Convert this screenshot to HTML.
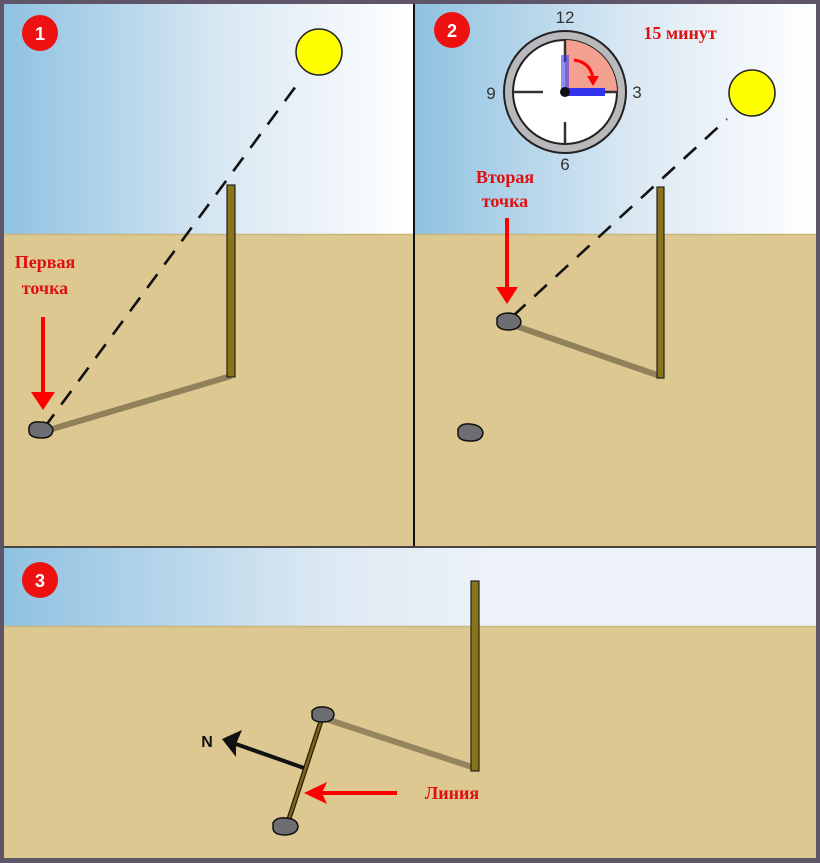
<!DOCTYPE html>
<html><head><meta charset="utf-8"><style>
html,body{margin:0;padding:0;background:#5e5668;}
svg{display:block}
</style></head><body>
<svg width="820" height="863" viewBox="0 0 820 863" xmlns="http://www.w3.org/2000/svg">
<defs>
<linearGradient id="sky1" x1="0" y1="0" x2="1" y2="0">
<stop offset="0" stop-color="#8fc2e1"/><stop offset="0.55" stop-color="#dbe9f3"/><stop offset="1" stop-color="#ffffff"/></linearGradient>
<linearGradient id="sky3" x1="0" y1="0" x2="1" y2="0">
<stop offset="0" stop-color="#8fc2e1"/><stop offset="0.4" stop-color="#dde9f3"/><stop offset="0.6" stop-color="#edf2f9"/><stop offset="1" stop-color="#edf2f9"/></linearGradient>
</defs>
<rect x="0" y="0" width="820" height="863" fill="#5e5668"/>
<!-- panel 1 -->
<rect x="4" y="4" width="409" height="231" fill="url(#sky1)"/>
<rect x="4" y="234" width="409" height="312" fill="#dcc890"/>
<line x1="4" y1="234.5" x2="413" y2="234.5" stroke="#c9b47a" stroke-width="1.5"/>
<!-- panel 2 -->
<rect x="415" y="4" width="401" height="231" fill="url(#sky1)"/>
<rect x="415" y="234" width="401" height="312" fill="#dcc890"/>
<line x1="415" y1="234.5" x2="816" y2="234.5" stroke="#c9b47a" stroke-width="1.5"/>
<rect x="413" y="4" width="2" height="542" fill="#111"/>
<!-- panel 3 -->
<rect x="4" y="546" width="812" height="2" fill="#4a4540"/>
<rect x="4" y="548" width="812" height="78" fill="url(#sky3)"/>
<rect x="4" y="626" width="812" height="232" fill="#dcc890"/>
<line x1="4" y1="626.5" x2="816" y2="626.5" stroke="#c9b47a" stroke-width="1.5"/>

<!-- badges -->
<circle cx="40" cy="33" r="18" fill="#ee1111"/>
<text x="40" y="40" text-anchor="middle" fill="#fff" font-size="18" font-weight="bold" font-family="Liberation Sans, sans-serif">1</text>
<circle cx="452" cy="30" r="18" fill="#ee1111"/>
<text x="452" y="37" text-anchor="middle" fill="#fff" font-size="18" font-weight="bold" font-family="Liberation Sans, sans-serif">2</text>
<circle cx="40" cy="580" r="18" fill="#ee1111"/>
<text x="40" y="587" text-anchor="middle" fill="#fff" font-size="18" font-weight="bold" font-family="Liberation Sans, sans-serif">3</text>

<!-- panel1 content -->
<circle cx="319" cy="52" r="23" fill="#ffff00" stroke="#222" stroke-width="1.5"/>
<line x1="44" y1="428" x2="296" y2="86" stroke="#111" stroke-width="2.6" stroke-dasharray="17,12"/>
<line x1="42" y1="432" x2="231" y2="376" stroke="#837552" stroke-width="6" opacity="0.85"/>
<rect x="227" y="185" width="8" height="192" fill="#8a7418" stroke="#222" stroke-width="1.2"/>
<path d="M29,427 Q31,421 40,422 Q51,422 53,430 Q52,438 42,438 Q30,438 29,432z" fill="#6e6e72" stroke="#111" stroke-width="1.5"/>
<line x1="43" y1="317" x2="43" y2="395" stroke="#f00" stroke-width="4"/>
<path d="M31,392 L55,392 L43,410z" fill="#f00"/>
<text x="45" y="268" text-anchor="middle" fill="#e01010" font-size="18" font-weight="bold" font-family="Liberation Serif, serif">Первая</text>
<text x="45" y="294" text-anchor="middle" fill="#e01010" font-size="18" font-weight="bold" font-family="Liberation Serif, serif">точка</text>

<!-- panel2 content -->
<circle cx="752" cy="93" r="23" fill="#ffff00" stroke="#222" stroke-width="1.5"/>
<line x1="513" y1="316" x2="727" y2="119" stroke="#111" stroke-width="2.6" stroke-dasharray="17,12"/>
<line x1="510" y1="324" x2="660" y2="376" stroke="#837552" stroke-width="6" opacity="0.85"/>
<rect x="657" y="187" width="7" height="191" fill="#8a7418" stroke="#222" stroke-width="1.2"/>
<path d="M497,318 Q500,313 509,313 Q520,314 521,322 Q520,329 510,330 Q498,330 497,324z" fill="#6e6e72" stroke="#111" stroke-width="1.5"/>
<path d="M458,429 Q461,423 470,424 Q482,425 483,433 Q482,441 471,441 Q459,441 458,435z" fill="#6e6e72" stroke="#111" stroke-width="1.5"/>
<line x1="507" y1="218" x2="507" y2="290" stroke="#f00" stroke-width="4"/>
<path d="M496,287 L518,287 L507,304z" fill="#f00"/>
<text x="505" y="183" text-anchor="middle" fill="#e01010" font-size="18" font-weight="bold" font-family="Liberation Serif, serif">Вторая</text>
<text x="505" y="207" text-anchor="middle" fill="#e01010" font-size="18" font-weight="bold" font-family="Liberation Serif, serif">точка</text>
<text x="680" y="39" text-anchor="middle" fill="#e01010" font-size="18" font-weight="bold" font-family="Liberation Serif, serif">15 минут</text>
<!-- clock -->
<circle cx="565" cy="92" r="61" fill="#b9b9bb" stroke="#222" stroke-width="2"/>
<circle cx="565" cy="92" r="52" fill="#fff" stroke="#222" stroke-width="2"/>
<path d="M565,92 L565,40 A52,52 0 0 1 617,92 Z" fill="#f4a090"/>
<g stroke="#333" stroke-width="2.5">
<line x1="565" y1="40" x2="565" y2="62"/><line x1="565" y1="122" x2="565" y2="144"/>
<line x1="513" y1="92" x2="543" y2="92"/><line x1="595" y1="92" x2="617" y2="92"/>
</g>
<rect x="561" y="55" width="8" height="37" fill="#3333ee" opacity="0.55"/>
<rect x="565" y="88" width="40" height="8" fill="#3333ee"/>
<circle cx="565" cy="92" r="5" fill="#111"/>
<path d="M574,60 Q590,62 593,78" fill="none" stroke="#f00" stroke-width="3"/>
<path d="M587,76 L599,76 L593,86z" fill="#f00"/>
<text x="565" y="23" text-anchor="middle" fill="#333" font-size="17" font-family="Liberation Sans, sans-serif">12</text>
<text x="637" y="98" text-anchor="middle" fill="#333" font-size="17" font-family="Liberation Sans, sans-serif">3</text>
<text x="565" y="170" text-anchor="middle" fill="#333" font-size="17" font-family="Liberation Sans, sans-serif">6</text>
<text x="491" y="99" text-anchor="middle" fill="#333" font-size="17" font-family="Liberation Sans, sans-serif">9</text>

<!-- panel3 content -->
<line x1="323" y1="718" x2="475" y2="768" stroke="#837552" stroke-width="6" opacity="0.8"/>
<rect x="471" y="581" width="8" height="190" fill="#8a7418" stroke="#222" stroke-width="1.2"/>
<line x1="322" y1="718" x2="287" y2="825" stroke="#2a2208" stroke-width="5"/>
<line x1="322" y1="718" x2="287" y2="825" stroke="#7a6420" stroke-width="2.5"/>
<path d="M312,711 Q316,706 324,707 Q334,708 334,715 Q333,722 323,722 Q312,722 312,716z" fill="#6e6e72" stroke="#111" stroke-width="1.5"/>
<path d="M273,823 Q276,817 286,818 Q298,819 298,827 Q297,834 286,835 Q273,835 273,828z" fill="#6e6e72" stroke="#111" stroke-width="1.5"/>
<line x1="304" y1="768" x2="236" y2="744" stroke="#111" stroke-width="4"/>
<path d="M222,739 L242,730 L236,744 L236,757z" fill="#111"/>
<text x="207" y="747" text-anchor="middle" fill="#111" font-size="16" font-weight="bold" font-family="Liberation Sans, sans-serif">N</text>
<line x1="397" y1="793" x2="320" y2="793" stroke="#f00" stroke-width="4"/>
<path d="M304,793 L327,782 L322,793 L327,804z" fill="#f00"/>
<text x="452" y="799" text-anchor="middle" fill="#e01010" font-size="18" font-weight="bold" font-family="Liberation Serif, serif">Линия</text>
</svg>
</body></html>
